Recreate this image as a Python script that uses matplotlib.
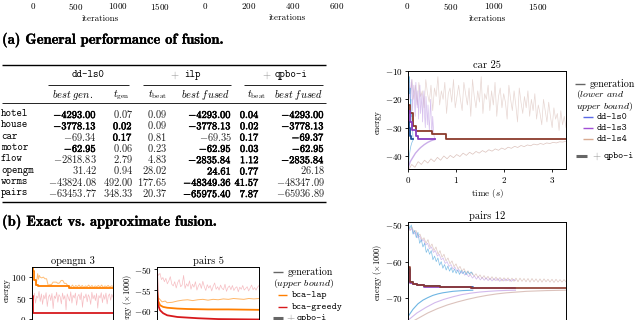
import numpy as np
import matplotlib

matplotlib.use("Agg")
import matplotlib.pyplot as plt
import matplotlib.patheffects as pe
from matplotlib.lines import Line2D

# ── page look: Computer Modern everywhere ──────────────────────────────
plt.rcParams.update({
    "font.family": "cmr10", "mathtext.fontset": "cm",
    "axes.formatter.use_mathtext": True, "axes.unicode_minus": True,
    "font.size": 7, "axes.linewidth": 0.7,
    "xtick.labelsize": 6.5, "ytick.labelsize": 6.5,
    "xtick.major.size": 2.5, "ytick.major.size": 2.5,
    "xtick.major.width": 0.6, "ytick.major.width": 0.6,
    "xtick.major.pad": 1.5, "ytick.major.pad": 1.5,
})

W, H = 640, 320

# colours
LS0_GEN, LS0_FUSED, LS0_KEY = "#4aa3dc", "#1d4f9c", "#5a6ae6"
LS3_GEN, LS3_FUSED, LS3_KEY = "#b48be0", "#8a3fc2", "#a24fd6"
LS4_GEN, LS4_FUSED, LS4_KEY = "#c49a90", "#8b3a2c", "#d9ab92"
LAP_GEN, LAP_FUSED = "#ffae55", "#ff7f00"
GRD_GEN, GRD_FUSED = "#ee8790", "#d7191c"
GREY = "#666666"
BOLD_FX = [pe.withStroke(linewidth=0.35, foreground="black")]
CAPTION_FX = [pe.withStroke(linewidth=0.2, foreground="black")]

# ── top strip (previous figure row, only ticks visible) ───────────────
TOP_TICKS = [[0, 500, 1000, 1500], [0, 200, 400, 600], [0, 500, 1000, 1500]]

# ── table (b) ─────────────────────────────────────────────────────────
ROWS = ["hotel", "house", "car", "motor", "flow", "opengm", "worms", "pairs"]
BEST_GEN = ["-4293.00", "-3778.13", "-69.34", "-62.95", "-2818.83", "31.42", "-43824.08", "-63453.77"]
T_GEN = ["0.07", "0.02", "0.17", "0.06", "2.79", "0.94", "492.00", "348.33"]
ILP_T = ["0.09", "0.09", "0.81", "0.23", "4.83", "28.02", "177.65", "20.37"]
ILP_BEST = ["-4293.00", "-3778.13", "-69.35", "-62.95", "-2835.84", "24.61", "-48349.36", "-65975.40"]
QP_T = ["0.04", "0.02", "0.17", "0.03", "1.12", "0.77", "41.57", "7.87"]
QP_BEST = ["-4293.00", "-3778.13", "-69.37", "-62.95", "-2835.84", "26.18", "-48347.09", "-65936.89"]
# rows printed in bold, per column
BOLD = {
    "best_gen": [0, 1, 3],
    "t_gen": [1, 2],
    "ilp_t": [],
    "ilp_best": [0, 1, 3, 4, 5, 6, 7],
    "qp_t": [0, 1, 2, 3, 4, 5, 6, 7],
    "qp_best": [0, 1, 2, 3, 4],
}

# ── car 25 (time in s) ────────────────────────────────────────────────
CAR_LS4_UP = [-12, -18, -13, -20, -15, -22, -14, -19, -17, -23, -13, -18, -21, -15, -24, -16,
              -19, -12, -22, -17, -20, -14, -25, -18, -16, -21, -13, -23, -19, -15, -20, -24,
              -14, -18, -22, -16, -26, -13, -19, -23, -17, -21, -12, -25, -18, -20, -15, -24,
              -17, -22, -14, -26, -19, -16, -23, -18, -21, -27, -15, -20, -24, -17, -22, -28,
              -16, -21, -25, -19, -23, -17, -26, -20, -24, -18, -27, -22, -25, -29, -20, -24,
              -28, -21, -26, -30, -23, -27, -25, -31, -24, -29, -26, -30]
CAR_LS4_LO = [-45, -43, -44, -42, -43, -41.5, -42.5, -41, -42, -40.5, -41.5, -40, -41, -39.8,
              -40.6, -39.5, -40.2, -39, -39.8, -38.7, -39.4, -38.4, -39, -38.1, -38.7, -37.8,
              -38.3, -37.5, -38, -37.2, -37.7, -36.9, -37.3, -36.6, -37, -36.3, -36.7, -36.1,
              -36.4, -35.8, -36.1, -35.6, -35.9, -35.4, -35.6, -35.2, -35.4, -35, -35.1, -34.8]
CAR_LS4_END = 3.3
CAR_LS3_UP = [-12, -20, -14, -22, -16, -13, -24, -18, -15, -21, -26, -14, -19, -23, -17, -27,
              -20, -15, -25, -22, -18, -28, -21, -17, -26, -30, -19, -24, -29, -22, -27, -31,
              -25, -20, -29, -32, -26, -30, -33, -34]
CAR_LS3_LO = [-44, -42, -41, -40, -39, -38.3, -37.6, -37, -36.5, -36, -35.6, -35.2, -34.9,
              -34.6, -34.4, -34.2]
CAR_LS3_END = 0.55
CAR_LS0_UP = [-10, -14, -12, -18, -16, -22, -20, -26, -25, -30, -29, -33, -34]
CAR_LS0_LO = [-44, -40, -38, -36.5, -35.5, -34.8, -34.3]
CAR_LS0_END = 0.1
CAR_LS0_FX, CAR_LS0_FY = [0, 0.02, 0.04, 0.06, 0.1], [-28, -30, -33, -34, -34]
CAR_LS3_FX, CAR_LS3_FY = [0, 0.03, 0.08, 0.15, 0.2, 0.55], [-24, -28, -31, -33, -34, -34]
CAR_LS4_FX = [0, 0.04, 0.1, 0.15, 0.5, 0.78, 3.3]
CAR_LS4_FY = [-22, -25, -29.5, -31.3, -32.3, -34, -34]

# ── pairs 12 (x: fraction of run, 0..100) ─────────────────────────────
P12_LS0_UP = [-49, -51, -50, -52.5, -51.5, -53.5, -52, -55, -54, -56, -55, -57.5, -56.5, -58,
              -57, -59.5, -58.5, -60, -59, -61, -60, -61.8, -60.8, -62.3, -61.2, -62.6, -61.6,
              -63, -62, -63.2, -62.3, -63.5, -62.4, -63.3, -62.6, -63.6, -62.7, -63.4, -62.8,
              -63.5]
P12_LS0_END = 41
P12_LS3_UP = [-50, -51.5, -51, -52.5, -52, -53.5, -53, -54.5, -54, -55.5, -55, -56.5, -56,
              -57.5, -57, -58.5, -58, -59.5, -59, -60.5, -60, -61.3, -60.8, -62, -61.5, -62.6,
              -62.1, -63.2, -62.7, -63.7, -63.2, -64.1, -63.6, -64.5, -63.9, -64.8, -64.1, -65,
              -64.3, -65.1, -64.4, -65.2, -64.5, -65.3, -64.6, -65.2, -64.6, -65.4, -64.7,
              -65.3, -64.7, -65.2, -64.8, -65.4, -64.8, -65.2]
P12_LS3_END = 68
P12_LS4_UP = [-50, -51.5, -50.5, -52, -51.5, -53, -52.5, -54, -53.5, -55, -54, -56, -55.2, -57,
              -56, -58, -57, -58.8, -58, -59.8, -59, -60.6, -59.8, -61.4, -60.6, -62, -61.3,
              -62.6, -61.9, -63.1, -62.5, -63.6, -62.9, -64, -63.3, -64.3, -63.6, -64.6, -63.8,
              -64.8, -64, -65, -64.1, -65.1, -64.2, -65.2, -64.3, -65.3, -64.4, -65.3, -64.4,
              -65.4, -64.5, -65.4, -64.5, -65.5, -64.5, -65.4, -64.6, -65.5, -64.6, -65.6,
              -64.6, -65.5, -64.7, -65.6, -64.7, -65.6, -64.7, -65.5, -64.8, -65.6, -64.8,
              -65.7, -64.8, -65.6, -64.9, -65.6, -64.9, -65.5]
P12_LS4_END = 100
P12_LS0_LO = [-75, -73, -71.5, -70.5, -69.8, -69.2, -68.8, -68.5, -68.3, -68.1, -68, -67.9,
              -67.85, -67.8]
P12_LS3_LO = [-76, -74, -72.5, -71.2, -70.3, -69.6, -69, -68.6, -68.3, -68.1, -67.95, -67.85,
              -67.8]
P12_LS4_LO = [-77, -75.5, -74, -72.8, -71.8, -71, -70.3, -69.7, -69.2, -68.8, -68.5, -68.3,
              -68.1, -68, -67.9, -67.85, -67.8]
P12_LS0_FX = [0, 1, 3, 6, 10, 20, 30, 41]
P12_LS0_FY = [-62, -65.5, -66, -66.3, -66.6, -66.9, -67, -67.1]
P12_LS3_FX = [0, 1, 3, 6, 10, 20, 40, 68]
P12_LS3_FY = [-63, -65.8, -66.2, -66.5, -66.8, -67, -67.1, -67.2]
P12_LS4_FX = [0, 1, 3, 6, 10, 20, 40, 60, 100]
P12_LS4_FY = [-61.5, -65.5, -66, -66.4, -66.7, -67, -67.1, -67.2, -67.2]

# ── opengm 3 ──────────────────────────────────────────────────────────
OG_GRD_GEN = [58, 45, 62, 38, 55, 50, 66, 42, 60, 35, 57, 48, 63, 30, 52, 58, 44, 61, 25, 55,
              49, 64, 40, 58, 53, 36, 62, 47, 56, 22, 60, 51, 43, 65, 38, 57, 50, 62, 33, 54,
              59, 46, 63, 28, 55, 50, 60, 41, 58, 52, 35, 64, 48, 57, 44, 61, 26, 56, 50, 63,
              39, 58, 47, 62, 36, 55, 60, 45, 59, 52]
OG_LAP_GEN_X = [5, 7, 8, 9, 10, 12, 14, 16, 18, 20, 22, 24, 26, 28, 30, 32, 34, 36, 38, 40, 42,
                44, 46, 48, 50, 52, 54, 56, 58, 60, 62, 64, 66, 68, 70, 72, 74, 76, 78, 80, 82,
                84, 86, 88, 90, 92, 94, 96, 98, 100]
OG_LAP_GEN_Y = [80, 108, 95, 104, 100, 98, 100, 96, 96, 80, 82, 82, 88, 88, 88, 85, 86, 92, 92,
                85, 85, 80, 79, 76, 81, 75, 80, 77, 81, 76, 80, 75, 79, 77, 81, 76, 80, 75, 79,
                77, 80, 76, 81, 75, 79, 77, 80, 76, 79, 78]
OG_LAP_FX = [0, 1, 2, 3, 5, 7, 45, 46, 100]
OG_LAP_FY = [124, 115, 102, 92, 82, 78, 78, 74, 74]
OG_GRD_FX, OG_GRD_FY = [0, 1.5, 100], [55, 15, 15]

# ── pairs 5 (energy / 1000) ───────────────────────────────────────────
P5_GRD_GEN = [-50.5, -51.5, -51, -52.5, -52, -53, -52.2, -53.5, -52.8, -51.8, -53.6, -54, -53,
              -54.5, -53.2, -52.5, -54.2, -53.8, -51.5, -54.6, -53.5, -54.1, -52.8, -54.8,
              -53.6, -54.3, -53, -55, -54, -53.4, -54.6, -52.9, -54.2, -55.1, -53.7, -54.5,
              -53.9, -55.2, -54.1, -53.3, -54.8, -54.2, -55, -53.8, -54.6, -54.9, -53.6, -55.3,
              -54.4, -54, -54.9, -53.9, -55.1, -54.5, -54.2, -55.4, -54.3, -54.8, -53.9, -55,
              -54.6, -54.2, -55.2, -54.5, -53.8, -54.9, -54.4, -55, -54.3, -53.9]
P5_LAP_GEN_X = [2, 5, 8, 10, 15, 20, 25, 30, 35, 40, 45, 50, 55, 60, 65, 70, 75, 80, 85, 90, 95, 100]
P5_LAP_GEN_Y = [-57.0, -57.8, -57.6, -58.0, -57.9, -57.6, -57.4, -57.3, -57.5, -57.3, -57.2,
                -57.4, -57.2, -57.3, -57.1, -57.2, -57.0, -57.1, -57.2, -57.0, -57.1, -57.0]
P5_LAP_FX = [0, 1, 3, 6, 10, 20, 30, 50, 70, 100]
P5_LAP_FY = [-55, -57.5, -58.6, -59, -59.2, -59.4, -59.5, -59.6, -59.6, -59.7]
P5_GRD_FX = [0, 0.5, 1, 3, 6, 10, 20, 40, 60, 100]
P5_GRD_FY = [-50, -56, -58.5, -59.8, -60.5, -61, -61.4, -61.7, -61.9, -62]

fig = plt.figure(figsize=(W / 100, H / 100), dpi=100)


def px_axes(l, t, r, b):
    return fig.add_axes([l / W, 1 - b / H, (r - l) / W, (b - t) / H])


def ftext(x, y, s, **kw):
    kw.setdefault("va", "center")
    fig.text(x / W, 1 - y / H, s, **kw)


def fline(x0, x1, y, color="black", lw=1.0, alpha=1.0):
    fig.add_artist(Line2D([x0 / W, x1 / W], [1 - y / H] * 2, transform=fig.transFigure,
                          color=color, lw=lw, alpha=alpha, solid_capstyle="butt"))


def trace(ax, vals, end, color, lw=0.5, alpha=0.5):
    ax.plot(np.linspace(0, end, len(vals)), vals, color=color, lw=lw, alpha=alpha)


# ── top strip: only the x tick labels of the row above survive ────────
for ticks, (l, r), lim in zip(TOP_TICKS, [(25, 175), (195, 380), (400, 574)],
                              [(-94, 1677), (-45, 795), (-80, 1912)]):
    ax = fig.add_axes([l / W, 1 + 5 / H, (r - l) / W, 0.2])
    ax.set_xlim(*lim)
    ax.set_xticks(ticks)
    ax.set_yticks([])
    ax.set_xlabel("iterations", fontsize=6.5, labelpad=2)

# ── caption (a) + table ───────────────────────────────────────────────
ftext(2, 40, "(a) General performance of fusion.", fontfamily="cmb10", fontsize=10.5,
      path_effects=CAPTION_FX)

fline(2, 326, 65, lw=1.0)
ftext(88, 75, "dd-ls0", fontfamily="cmtt10", fontsize=7.5, ha="center")
ftext(174, 75, "+", color="#888888", fontsize=7.5, ha="center")
ftext(184, 75, "ilp", fontfamily="cmtt10", fontsize=7.5)
ftext(266, 75, "+", color="#888888", fontsize=7.5, ha="center")
ftext(275, 75, "qpbo-i", fontfamily="cmtt10", fontsize=7.5)
for x0, x1 in [(48, 129), (143, 231), (244, 323)]:
    fline(x0, x1, 85, lw=0.6)
for x, s in [(73, r"$\mathit{best\ gen.}$"), (121, r"$t_{\rm gen}$"), (158, r"$t_{\rm beat}$"),
             (206, r"$\mathit{best\ fused}$"), (257, r"$t_{\rm beat}$"),
             (299, r"$\mathit{best\ fused}$")]:
    ftext(x, 95, s, fontsize=7.5, ha="center")
fline(2, 326, 103, lw=0.6)

columns = [("best_gen", BEST_GEN, 97), ("t_gen", T_GEN, 133), ("ilp_t", ILP_T, 167),
           ("ilp_best", ILP_BEST, 232), ("qp_t", QP_T, 260), ("qp_best", QP_BEST, 325)]
for i, name in enumerate(ROWS):
    y = 114 + i * 11.3
    ftext(1, y, name, fontfamily="cmtt10", fontsize=7.5)
    for key, vals, xr in columns:
        if i in BOLD[key]:
            ftext(xr, y, r"$\mathbf{%s}$" % vals[i], fontsize=7.5, ha="right",
                  path_effects=BOLD_FX)
        else:
            ftext(xr, y, r"$%s$" % vals[i], fontsize=7.5, ha="right", color="#222222")
fline(2, 326, 202, lw=1.0)

ftext(2, 222, "(b) Exact vs. approximate fusion.", fontfamily="cmb10", fontsize=10.5,
      path_effects=CAPTION_FX)

# ── car 25 ────────────────────────────────────────────────────────────
ax = px_axes(408, 71, 566, 169)
trace(ax, CAR_LS4_UP, CAR_LS4_END, LS4_GEN, alpha=0.4)
trace(ax, CAR_LS4_LO, CAR_LS4_END, LS4_GEN, alpha=0.6)
trace(ax, CAR_LS3_UP, CAR_LS3_END, LS3_GEN, alpha=0.55)
trace(ax, CAR_LS3_LO, CAR_LS3_END, LS3_GEN, lw=1.0, alpha=0.7)
trace(ax, CAR_LS0_UP, CAR_LS0_END, LS0_GEN, alpha=0.7)
trace(ax, CAR_LS0_LO, CAR_LS0_END, LS0_GEN, alpha=0.7)
ax.step(CAR_LS4_FX, CAR_LS4_FY, where="post", color=LS4_FUSED, lw=1.3)
ax.step(CAR_LS3_FX, CAR_LS3_FY, where="post", color=LS3_FUSED, lw=1.3)
ax.step(CAR_LS0_FX, CAR_LS0_FY, where="post", color=LS0_FUSED, lw=1.3)
ax.set_xlim(-0.01, 3.3)
ax.set_ylim(-44.6, -10)
ax.set_xticks([0, 1, 2, 3])
ax.set_yticks([-40, -30, -20, -10])
ax.set_title("car 25", fontsize=7.5, pad=2)
ax.set_xlabel("time $(s)$", fontsize=6.5, labelpad=2)
ftext(378, 122, "energy", rotation=90, fontsize=6, ha="center")

# legend, right column
fline(575, 585, 84, color=GREY, lw=1.0)
ftext(590, 84, "generation", fontsize=7.2)
ftext(576, 94.5, r"$\mathit{(lower\ and}$", fontsize=7)
ftext(576, 106.5, r"$\mathit{upper\ bound)}$", fontsize=7)
for y, name, c in [(117, "dd-ls0", LS0_KEY), (128, "dd-ls3", LS3_KEY), (139, "dd-ls4", LS4_KEY)]:
    fline(583, 593, y, color=c, lw=1.0)
    ftext(597, y, name, fontfamily="cmtt10", fontsize=7)
fline(576, 587, 156, color=GREY, lw=2.2)
ftext(596, 156, "+", color="#888888", fontsize=7.5, ha="center")
ftext(604, 156, "qpbo-i", fontfamily="cmtt10", fontsize=7)

# ── pairs 12 ──────────────────────────────────────────────────────────
ax = px_axes(408, 222, 566, 328)
trace(ax, P12_LS4_UP, P12_LS4_END, LS4_GEN, alpha=0.55)
trace(ax, P12_LS3_UP, P12_LS3_END, LS3_GEN, alpha=0.6)
trace(ax, P12_LS0_UP, P12_LS0_END, LS0_GEN, alpha=0.7)
trace(ax, P12_LS4_LO, P12_LS4_END, LS4_GEN, lw=0.8, alpha=0.6)
trace(ax, P12_LS3_LO, P12_LS3_END, LS3_GEN, lw=0.8, alpha=0.6)
trace(ax, P12_LS0_LO, P12_LS0_END, LS0_GEN, lw=0.8, alpha=0.8)
ax.step(P12_LS0_FX, P12_LS0_FY, where="post", color=LS0_FUSED, lw=1.2)
ax.step(P12_LS3_FX, P12_LS3_FY, where="post", color=LS3_FUSED, lw=1.2)
ax.step(P12_LS4_FX, P12_LS4_FY, where="post", color=LS4_FUSED, lw=1.2)
ax.set_xlim(0, 100)
ax.set_ylim(-78.1, -49.2)
ax.set_xticks([])
ax.set_yticks([-70, -60, -50])
ax.set_title("pairs 12", fontsize=7.5, pad=2)
ftext(378, 272, r"energy $(\times 1000)$", rotation=90, fontsize=6, ha="center")

# ── opengm 3 ──────────────────────────────────────────────────────────
ax = px_axes(32, 267, 113, 330)
trace(ax, OG_GRD_GEN, 100, GRD_GEN, alpha=0.55)
ax.plot(OG_LAP_GEN_X, OG_LAP_GEN_Y, color=LAP_GEN, lw=0.7, alpha=0.8)
ax.step(OG_LAP_FX, OG_LAP_FY, where="post", color=LAP_FUSED, lw=1.3)
ax.step(OG_GRD_FX, OG_GRD_FY, where="post", color=GRD_FUSED, lw=1.3)
ax.set_xlim(0, 100)
ax.set_ylim(-26, 124)
ax.set_xticks([])
ax.set_yticks([0, 50, 100])
ax.set_title("opengm 3", fontsize=7.5, pad=2)
ftext(7, 290, "energy", rotation=90, fontsize=6, ha="center")

# ── pairs 5 ───────────────────────────────────────────────────────────
ax = px_axes(157, 267, 259, 330)
trace(ax, P5_GRD_GEN, 100, GRD_GEN, alpha=0.55)
ax.plot(P5_LAP_GEN_X, P5_LAP_GEN_Y, color=LAP_GEN, lw=0.7, alpha=0.9)
ax.plot(P5_LAP_FX, P5_LAP_FY, color=LAP_FUSED, lw=1.3)
ax.plot(P5_GRD_FX, P5_GRD_FY, color=GRD_FUSED, lw=1.3)
ax.set_xlim(0, 100)
ax.set_ylim(-64.5, -49.5)
ax.set_xticks([])
ax.set_yticks([-60, -55, -50])
ax.set_title("pairs 5", fontsize=7.5, pad=2)
ftext(128, 302, r"energy $(\times 1000)$", rotation=90, fontsize=6, ha="center")

# legend, bottom middle
fline(273, 283, 272, color=GREY, lw=1.0)
ftext(288, 272, "generation", fontsize=7.2)
ftext(273, 284, r"$\mathit{(upper\ bound)}$", fontsize=7)
for y, name, c in [(295, "bca-lap", LAP_FUSED), (307, "bca-greedy", GRD_FUSED)]:
    fline(278, 287, y, color=c, lw=1.0)
    ftext(292, y, name, fontfamily="cmtt10", fontsize=7)
fline(273, 283, 318, color=GREY, lw=2.2)
ftext(290, 318, "+", color="#888888", fontsize=7.5, ha="center")
ftext(297, 318, "qpbo-i", fontfamily="cmtt10", fontsize=7)

fig.savefig("out.png", dpi=100)
